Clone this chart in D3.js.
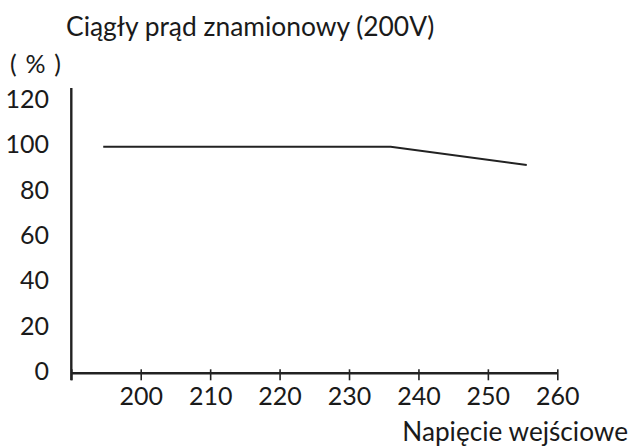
<!DOCTYPE html>
<html><head><meta charset="utf-8">
<script src="https://cdn.jsdelivr.net/npm/d3@7"></script>
<style>body{margin:0;background:#fff}svg{display:block}text{font-family:Lato, "Open Sans", sans-serif;fill:#1a1a1a}</style>
</head><body>
<script>
const voltage = [194.6, 236, 255.6];
const currentPct = [100, 100, 92];
const xTicks = [190, 200, 210, 220, 230, 240, 250, 260];
const yTickLabels = [0, 20, 40, 60, 80, 100, 120];
const title = "Ciągły prąd znamionowy (200V)";
const yUnit = "( % )";
const xTitle = "Napięcie wejściowe";

const W = 630, H = 446;
const svg = d3.select("body").append("svg").attr("width", W).attr("height", H);
const x = d3.scaleLinear().domain([190, 260]).range([71.3, 557.3]);
const y = d3.scaleLinear().domain([0, 126]).range([373.3, 88]);

svg.append("text").attr("x", 66).attr("y", 36).attr("font-size", 26.4).text(title);
svg.append("text").attr("x", 10).attr("y", 73).attr("font-size", 25)
  .attr("textLength", 51).attr("lengthAdjust", "spacing").text(yUnit);

// y axis line
svg.append("line").attr("x1", x(190)).attr("x2", x(190)).attr("y1", y(126)).attr("y2", y(0) + 7)
  .attr("stroke", "#222").attr("stroke-width", 2.4);
// x axis
const xa = svg.append("g").attr("transform", `translate(0,${y(0)})`)
  .call(d3.axisBottom(x).tickValues(xTicks).tickSize(7).tickFormat(d => d === 190 ? "" : d));
xa.select(".domain").attr("stroke", "#222").attr("stroke-width", 2.4).attr("d", `M${x(190)},0H${x(260)}`);
xa.selectAll(".tick line").attr("stroke", "#222").attr("stroke-width", 1.6).attr("y1", -4);
xa.selectAll(".tick text").attr("font-size", 25).attr("dy", 0).attr("y", 31.7)
  .style("font-family", "Lato, 'Open Sans', sans-serif").attr("fill", "#1a1a1a");

// y labels
svg.append("g").selectAll("text").data(yTickLabels).join("text")
  .attr("x", 49).attr("y", d => y(d) + 6.5).attr("text-anchor", "end")
  .attr("font-size", 25).text(d => d);

svg.append("text").attr("x", 628).attr("y", 441).attr("text-anchor", "end").attr("font-size", 26.2).text(xTitle);

const pts = voltage.map((v, i) => [v, currentPct[i]]);
svg.append("path").datum(pts)
  .attr("d", d3.line().x(d => x(d[0])).y(d => y(d[1])))
  .attr("fill", "none").attr("stroke", "#222").attr("stroke-width", 2);
</script>
</body></html>
